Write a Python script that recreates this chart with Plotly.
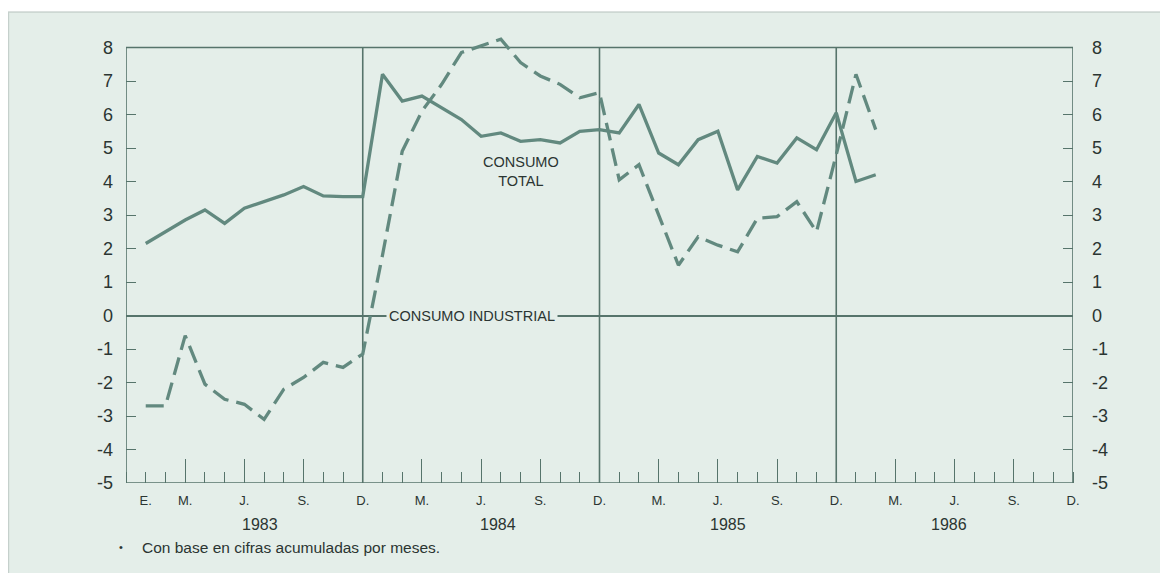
import plotly.graph_objects as go

# month index: 0 = Dec 1982, 1 = Jan 1983 ... 38 = Feb 1986, 48 = Dec 1986
months = list(range(1, 39))

consumo_total = [2.15, 2.5, 2.85, 3.15, 2.75, 3.2, 3.4, 3.6, 3.85, 3.57, 3.55, 3.55,
                 7.2, 6.4, 6.55, 6.2, 5.85, 5.35, 5.45, 5.2, 5.25, 5.15, 5.5, 5.55,
                 5.45, 6.3, 4.85, 4.5, 5.25, 5.5, 3.75, 4.75, 4.55, 5.3, 4.95, 6.05,
                 4.0, 4.2]

consumo_industrial = [-2.7, -2.7, -0.6, -2.05, -2.5, -2.65, -3.1, -2.2, -1.85, -1.4, -1.55, -1.15,
                      1.8, 4.9, 6.1, 6.9, 7.85, 8.05, 8.25, 7.55, 7.15, 6.9, 6.5, 6.65,
                      4.05, 4.5, 3.0, 1.5, 2.35, 2.1, 1.9, 2.9, 2.95, 3.4, 2.5, 4.8,
                      7.2, 5.55]

year_labels = ["1983", "1984", "1985", "1986"]
x_tick_vals = [1, 3, 6, 9, 12, 15, 18, 21, 24, 27, 30, 33, 36, 39, 42, 45, 48]
x_tick_text = ["E.", "M.", "J.", "S.", "D.", "M.", "J.", "S.", "D.",
               "M.", "J.", "S.", "D.", "M.", "J.", "S.", "D."]
x_major_ticks = [3, 6, 9, 12, 15, 18, 21, 24, 27, 30, 33, 36, 39, 42, 45]
y_tick_vals = list(range(-5, 9))
y_tick_text = [str(v) for v in y_tick_vals]

# layout: where the year captions sit along the month axis
year_label_x = [6.8, 18.85, 30.5, 41.7]

BG = "#e4eee9"
LINE = "#62897f"
FRAME = "#56746b"
TEXT = "#2b3532"
FONT = "Liberation Sans, Arial, sans-serif"

# page body keeps an 8px white margin (like the scanned page border)
L, R, T, B = 118, 95, 28, 90
W, H = 1160, 565
PW, PH = W - L - R, H - T - B

fig = go.Figure()
fig.add_trace(go.Scatter(x=months, y=consumo_total, mode="lines",
                         line=dict(color=LINE, width=3.3), name="Consumo total",
                         showlegend=False))
fig.add_trace(go.Scatter(x=months, y=consumo_industrial, mode="lines",
                         line=dict(color=LINE, width=3.3, dash="18px,8px"),
                         name="Consumo industrial", showlegend=False))
# invisible carriers so the secondary (tick-only) axes are drawn
fig.add_trace(go.Scatter(x=months, y=consumo_total, xaxis="x2", yaxis="y",
                         mode="lines", line=dict(width=0), opacity=0,
                         hoverinfo="skip", showlegend=False))
fig.add_trace(go.Scatter(x=months, y=consumo_total, xaxis="x", yaxis="y2",
                         mode="lines", line=dict(width=0), opacity=0,
                         hoverinfo="skip", showlegend=False))

yr = [-5, -5 + PH / 33.5]

axis_font = dict(family=FONT, size=18, color=TEXT)
fig.update_layout(
    width=W, height=H,
    margin=dict(l=L, r=R, t=T, b=B),
    paper_bgcolor=BG, plot_bgcolor=BG,
    font=dict(family=FONT, color=TEXT),
    xaxis=dict(range=[0, 48], showgrid=False, zeroline=False, showline=False,
               tickmode="array", tickvals=x_tick_vals, ticktext=x_tick_text,
               ticks="", tickfont=dict(family=FONT, size=13, color=TEXT),
               ticklabelstandoff=8,
               minor=dict(ticks="inside", ticklen=11, tickwidth=1.3, tickcolor=FRAME,
                          tick0=0, dtick=1, showgrid=False)),
    xaxis2=dict(range=[0, 48], overlaying="x", anchor="y", side="bottom",
                showgrid=False, zeroline=False, showline=False,
                tickmode="array", tickvals=x_major_ticks, ticks="inside",
                ticklen=24, tickwidth=1.3, tickcolor=FRAME, showticklabels=False),
    yaxis=dict(range=yr, showgrid=False, showline=False,
               zeroline=True, zerolinecolor=FRAME, zerolinewidth=1.6,
               tickmode="array", tickvals=y_tick_vals, ticktext=y_tick_text,
               ticks="inside", ticklen=10, tickwidth=1.3, tickcolor=FRAME,
               tickfont=axis_font, ticklabelstandoff=12),
    yaxis2=dict(range=yr, overlaying="y", side="right", anchor="x",
                showgrid=False, showline=False, zeroline=False,
                tickmode="array", tickvals=y_tick_vals, ticktext=y_tick_text,
                ticks="inside", ticklen=10, tickwidth=1.3, tickcolor=FRAME,
                tickfont=axis_font, ticklabelstandoff=18),
)

# frame and year separators
fig.add_shape(type="rect", xref="x", yref="y", x0=0, x1=48, y0=-5, y1=8,
              line=dict(color=FRAME, width=1.6), layer="below")
for xv in [12, 24, 36]:
    fig.add_shape(type="line", xref="x", yref="y", x0=xv, x1=xv, y0=-5, y1=8,
                  line=dict(color=FRAME, width=1.6), layer="below")

# thin white strip + grey page edge at the top and left
fig.add_shape(type="rect", xref="paper", yref="paper",
              x0=-L / PW - 0.01, x1=1 + R / PW + 0.01,
              y0=1 + (T - 4) / PH, y1=1 + T / PH + 0.02,
              fillcolor="white", line=dict(width=0), layer="below")
fig.add_shape(type="line", xref="paper", yref="paper",
              x0=-L / PW, x1=1 + R / PW + 0.01,
              y0=1 + (T - 4) / PH, y1=1 + (T - 4) / PH,
              line=dict(color="#b5c2bd", width=1.2))
fig.add_shape(type="line", xref="paper", yref="paper",
              x0=-(L - 0.6) / PW, x1=-(L - 0.6) / PW,
              y0=-B / PH, y1=1 + (T - 4) / PH,
              line=dict(color="#c5d0cc", width=1.2))

# year labels
for xp, yl in zip(year_label_x, year_labels):
    fig.add_annotation(x=xp, xref="x", y=0, yref="paper", yshift=-41,
                       xanchor="center", yanchor="middle",
                       text=yl, showarrow=False,
                       font=dict(family=FONT, size=16, color=TEXT))

# series labels
fig.add_annotation(x=17.55, y=0, xref="x", yref="y", text="CONSUMO INDUSTRIAL",
                   showarrow=False, bgcolor=BG, borderpad=2,
                   font=dict(family=FONT, size=14.5, color=TEXT))
fig.add_annotation(x=20.0, y=4.3, xref="x", yref="y", text="CONSUMO<br>TOTAL",
                   showarrow=False, align="center",
                   font=dict(family=FONT, size=14.5, color=TEXT))

# footnote
fy = -(547 - 8 - (H - B)) / PH
fig.add_annotation(x=(121 - 8 - L) / PW, y=fy, xref="paper", yref="paper",
                   text="•", showarrow=False, xanchor="center", yanchor="middle",
                   font=dict(family=FONT, size=11, color=TEXT))
fig.add_annotation(x=(140 - 8 - L) / PW, y=fy, xref="paper", yref="paper",
                   text="Con base en cifras acumuladas por meses.", showarrow=False,
                   xanchor="left", yanchor="middle",
                   font=dict(family=FONT, size=15.5, color=TEXT))

fig.write_html("out.html")
